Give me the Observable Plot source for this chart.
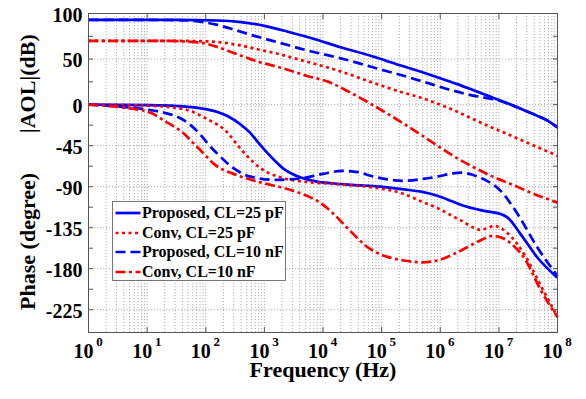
<!DOCTYPE html>
<html><head><meta charset="utf-8">
<script src="https://cdn.jsdelivr.net/npm/d3@7"></script>
<script src="https://cdn.jsdelivr.net/npm/@observablehq/plot@0.6"></script>
<style>
body{margin:0;background:#fff;}
#wrap{position:relative;width:586px;height:399px;overflow:hidden;font-family:"Liberation Serif","Times New Roman",serif;font-weight:bold;}
#legend{position:absolute;left:112px;top:201px;width:174px;height:80px;box-sizing:border-box;border:1px solid #777;background:#fff;}
.row{position:absolute;left:0;height:20px;display:flex;align-items:center;font-size:16px;white-space:nowrap;color:#000;}
.row span{margin-left:1px;}
</style></head><body><div id="wrap"></div>
<script>
// ---- data (frequency given as log10(Hz)) ----
const decades = [1, 10, 100, 1e3, 1e4, 1e5, 1e6, 1e7, 1e8];
const decadeExp = ["0","1","2","3","4","5","6","7","8"];
const yTicks = [100, 50, 0, -45, -90, -135, -180, -225];
const yMinor = [75, 25, -22.5, -67.5, -112.5, -157.5, -202.5];
const gridY = [50, 0, -45, -90, -135, -180, -225];
const seriesNames = ["Proposed, CL=25 pF", "Conv, CL=25 pF", "Proposed, CL=10 nF", "Conv, CL=10 nF"];

const gainProp25 = [[0,93],[1.5,93],[2.2,92.3],[2.6,90.5],[3.0,86.5],[3.4,80],[3.85,72],[4.3,63],[4.81,53.6],[5.3,43.5],[5.67,36],[6.0,29],[6.29,22.5],[6.6,15],[6.97,6],[7.3,-2.5],[7.59,-10.4],[7.8,-16.5],[8.0,-25]];
const gainConv25 = [[0,70],[1.5,70],[2.0,69.5],[2.3,68],[2.59,65],[2.9,60.5],[3.28,55],[3.56,50],[3.96,43],[4.3,36.5],[4.81,25],[5.3,14.5],[5.7,7],[6.0,0],[6.3,-8],[6.63,-18],[7.15,-32.4],[7.6,-45],[8.0,-56]];
const gainProp10 = [[0,93],[1.5,92.8],[1.9,91],[2.2,87.5],[2.42,83.5],[2.8,76],[3.28,67.5],[3.7,60],[4.13,53.5],[4.5,47.5],[4.93,39.5],[5.3,33],[5.67,26],[6.1,17.5],[6.52,10.5],[6.86,6.5],[7.0,4.5],[7.2,0],[7.59,-10.4],[7.8,-16.5],[8.0,-25]];
const gainConv10 = [[0,70],[1.3,70],[1.7,69],[2.03,66.5],[2.3,61],[2.59,54],[2.9,47],[3.28,40.5],[3.7,32],[4.13,24],[4.4,15.5],[4.81,1],[5.38,-21],[5.95,-45],[6.23,-56.5],[6.52,-67],[6.97,-81],[7.2,-87],[7.6,-98],[8.0,-107.5]];

const phaseProp25 = [[0,0],[1.06,-0.5],[1.5,-1.5],[1.91,-4],[2.2,-8],[2.37,-12.5],[2.6,-22],[2.76,-31],[2.9,-42],[3.05,-53],[3.2,-63],[3.33,-70.5],[3.62,-80],[3.9,-84.5],[4.19,-86.5],[4.5,-88],[4.98,-90],[5.38,-93],[5.67,-95.5],[5.95,-100],[6.2,-106],[6.4,-111],[6.75,-116.6],[7.03,-120],[7.15,-124],[7.37,-142],[7.66,-168],[8.0,-190]];
const phaseConv25 = [[0,0],[1.06,-1.3],[1.63,-5],[2.03,-16],[2.37,-30.6],[2.55,-45],[2.65,-52.5],[2.94,-70],[3.28,-80],[3.67,-84.5],[4.19,-87],[4.81,-90.5],[5.38,-98],[5.67,-106],[5.95,-113.5],[6.35,-127],[6.7,-137.5],[6.82,-135],[6.92,-133],[7.15,-141],[7.45,-166],[7.71,-198],[8.0,-233]];
const phaseProp10 = [[0,0],[0.5,-2],[1.06,-6],[1.3,-9],[1.6,-16],[1.91,-33],[2.05,-44],[2.2,-54],[2.48,-70],[2.76,-79],[3.2,-82.5],[3.6,-81],[4.0,-76],[4.32,-72.7],[4.6,-74],[4.81,-78],[5.1,-82],[5.38,-83.6],[5.7,-81.5],[5.95,-79],[6.2,-75.5],[6.35,-74.5],[6.55,-77],[6.75,-82],[7.03,-94.6],[7.32,-120],[7.66,-157],[8.0,-188]];
const phaseConv10 = [[0,0],[0.5,-2.5],[1.06,-9],[1.3,-18],[1.63,-32],[1.8,-43],[1.91,-50],[2.14,-65],[2.54,-77.5],[2.94,-85.5],[3.3,-91],[3.6,-97],[3.96,-108],[4.2,-121],[4.41,-135],[4.81,-158.6],[5.1,-167],[5.38,-171],[5.7,-173],[5.95,-171],[6.23,-164],[6.5,-155],[6.7,-148.5],[6.89,-144],[7.05,-146],[7.2,-152],[7.45,-170],[7.71,-203],[8.0,-233]];

// ---- styles ----
const styles = [
  {stroke:"#0000ff", dash:null},
  {stroke:"#ff0000", dash:"3,3.5"},
  {stroke:"#0000ff", dash:"10,5"},
  {stroke:"#ff0000", dash:"10,3.5,3,3.5"}
];
const seriesData = [
  [gainProp25, phaseProp25],
  [gainConv25, phaseConv25],
  [gainProp10, phaseProp10],
  [gainConv10, phaseConv10]
];

const minorX = [];
for (let k = 0; k < 8; k++) for (let m = 2; m <= 9; m++) minorX.push(m * 10 ** k);
const gridX = decades.concat(minorX);

const lineMarks = [];
seriesData.forEach((pair, i) => {
  pair.forEach(arr => {
    const rows = arr.map(([lf, v]) => ({f: 10 ** lf, v}));
    lineMarks.push(Plot.line(rows, {
      x: "f", y: "v", stroke: styles[i].stroke, strokeWidth: 2.7,
      strokeDasharray: styles[i].dash, curve: "monotone-x", strokeLinecap: "butt"
    }));
  });
});

const gridStyle = {stroke: "#999", strokeWidth: 0.8, strokeDasharray: "1.2,1.8"};

const chart = Plot.plot({
  width: 586, height: 399,
  marginLeft: 88, marginRight: 29, marginTop: 13, marginBottom: 67,
  style: {fontFamily: '"Liberation Serif","Times New Roman",serif', fontWeight: "bold", background: "#fff", color: "#000"},
  x: {type: "log", domain: [1, 1e8], axis: null},
  y: {domain: [-250, 100], axis: null},
  marks: [
    Plot.ruleX(gridX, gridStyle),
    Plot.ruleY(gridY, gridStyle),
    Plot.axisY({anchor: "left", ticks: yTicks.concat(yMinor), tickSize: -5, fill: "none", stroke: "#555", label: null}),
    Plot.axisY({anchor: "right", ticks: yTicks.concat(yMinor), tickSize: -5, fill: "none", stroke: "#555", label: null}),
    Plot.axisX({anchor: "bottom", ticks: decades, tickSize: -5, fill: "none", stroke: "#555", label: null}),
    Plot.axisX({anchor: "top", ticks: decades, tickSize: -5, fill: "none", stroke: "#555", label: null}),
    Plot.axisY({anchor: "left", ticks: yTicks, tickSize: 0, tickPadding: 6, fontSize: 20, fontWeight: "bold", dy: 2, label: null, tickFormat: d => String(d)}),
    Plot.text(decades, {x: d => d, frameAnchor: "bottom", text: () => "10", dy: 25, dx: -5, fontSize: 20, fontWeight: "bold", fill: "#000"}),
    Plot.text(decades, {x: d => d, frameAnchor: "bottom", text: (d, i) => decadeExp[i], dy: 13, dx: 11, fontSize: 13, fontWeight: "bold", fill: "#000"}),
    Plot.text(["Frequency (Hz)"], {frameAnchor: "bottom", text: d => d, dy: 44, fontSize: 22, fontWeight: "bold", fill: "#000"}),
    Plot.text(["|AOL|(dB)"], {frameAnchor: "left", textAnchor: "middle", y: () => 23, text: d => d, dx: -61, rotate: -90, fontSize: 22, fontWeight: "bold", fill: "#000"}),
    Plot.text(["Phase (degree)"], {frameAnchor: "left", textAnchor: "middle", y: () => -150, text: d => d, dx: -61, rotate: -90, fontSize: 22, fontWeight: "bold", fill: "#000"}),
    ...lineMarks,
    Plot.frame({stroke: "#555", strokeWidth: 1})
  ]
});

const wrap = document.getElementById("wrap");
wrap.appendChild(chart);

// legend overlay
const legend = document.createElement("div");
legend.id = "legend";
const centers = [11, 30.5, 50, 69.5];
seriesNames.forEach((name, i) => {
  const row = document.createElement("div");
  row.className = "row";
  row.style.top = (centers[i] - 10) + "px";
  const ns = "http://www.w3.org/2000/svg";
  const svg = document.createElementNS(ns, "svg");
  svg.setAttribute("width", 28); svg.setAttribute("height", 20);
  const ln = document.createElementNS(ns, "line");
  ln.setAttribute("x1", 2.5); ln.setAttribute("x2", 27.5);
  ln.setAttribute("y1", 10); ln.setAttribute("y2", 10);
  ln.setAttribute("stroke", styles[i].stroke);
  ln.setAttribute("stroke-width", 2.7);
  if (styles[i].dash) ln.setAttribute("stroke-dasharray", styles[i].dash);
  svg.appendChild(ln);
  row.appendChild(svg);
  const sp = document.createElement("span");
  sp.textContent = name;
  row.appendChild(sp);
  legend.appendChild(row);
});
wrap.appendChild(legend);
</script></body></html>
